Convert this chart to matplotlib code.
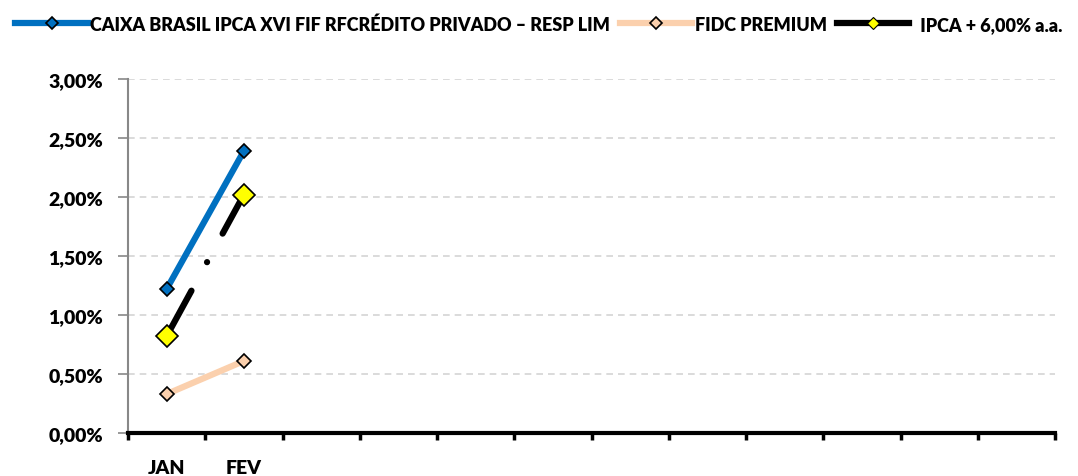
import matplotlib.pyplot as plt
from matplotlib.lines import Line2D
from matplotlib.ticker import FuncFormatter, MultipleLocator

# Dados do gráfico (rentabilidade mensal, %)
months = ["JAN", "FEV", "MAR", "ABR", "MAI", "JUN", "JUL", "AGO", "SET", "OUT", "NOV", "DEZ"]
month_labels = ["JAN", "FEV", "", "", "", "", "", "", "", "", "", ""]
caixa = [1.22, 2.39]
fidc = [0.33, 0.61]
ipca = [0.82, 2.02]

names = ["CAIXA BRASIL IPCA XVI FIF RFCRÉDITO PRIVADO – RESP LIM",
         "FIDC PREMIUM",
         "  IPCA + 6,00% a.a."]

plt.rcParams["font.family"] = ["Lato", "DejaVu Sans"]
plt.rcParams["font.weight"] = "heavy"

fig = plt.figure(figsize=(10.78, 4.77), dpi=100)
ax = fig.add_axes([128 / 1078, 43 / 477, (1055 - 128) / 1078, (434 - 80) / 477])

x = list(range(len(months)))
lw = 4.5

ax.plot(x[:len(caixa)], caixa, color="#0070c0", lw=lw, solid_capstyle="butt",
        marker="D", ms=7, mfc="#0070c0", mec="black", mew=1.2, zorder=4)
ax.plot(x[:len(fidc)], fidc, color="#fbd0ad", lw=lw, solid_capstyle="butt",
        marker="D", ms=7, mfc="#fbd0ad", mec="black", mew=1.2, zorder=3)
ax.plot(x[:len(ipca)], ipca, color="black", lw=lw, dash_capstyle="round",
        linestyle=(0, (8.3, 5.2, 0.01, 5.2)),
        marker="D", ms=11, mfc="#ffff00", mec="black", mew=1.2, zorder=5)

ax.set_xlim(-0.5, len(months) - 0.5)
ax.set_ylim(0, 3.0)

ax.yaxis.set_major_locator(MultipleLocator(0.5))
ax.yaxis.set_major_formatter(FuncFormatter(lambda v, p: f"{v:.2f}%".replace(".", ",")))
ax.grid(axis="y", color="#d4d4d4", linestyle=(0, (4, 3)), lw=1.2)
ax.set_axisbelow(True)

# marcas nos limites das categorias, rótulos no centro
ax.set_xticks([i - 0.5 for i in range(len(months) + 1)])
ax.set_xticklabels([])
ax.set_xticks(x, minor=True)
ax.set_xticklabels(month_labels, minor=True)
ax.tick_params(axis="x", which="major", direction="out", length=5, width=2.5, color="black")
ax.tick_params(axis="x", which="minor", length=0, pad=19, labelsize=14)
ax.tick_params(axis="y", direction="out", length=7, width=1.2, color="#888888",
               labelsize=14, pad=11)

for s in ["top", "right"]:
    ax.spines[s].set_visible(False)
ax.spines["left"].set_color("#888888")
ax.spines["left"].set_linewidth(1.5)
ax.spines["bottom"].set_color("black")
ax.spines["bottom"].set_linewidth(3)

handles = [
    Line2D([], [], color="#0070c0", lw=lw, marker="D", ms=6, mfc="#0070c0", mec="black", mew=1.2),
    Line2D([], [], color="#fbd0ad", lw=lw, marker="D", ms=6, mfc="#fbd0ad", mec="black", mew=1.2),
    Line2D([], [], color="black", lw=lw, marker="D", ms=6, mfc="#ffff00", mec="black", mew=0.8),
]
fig.legend(handles, names, loc="upper center", bbox_to_anchor=(0.5, 1.0), ncol=3,
           frameon=False, handlelength=4.0, handletextpad=0.15, columnspacing=0.55,
           prop={"weight": "heavy", "size": 13})

fig.savefig("out.png", dpi=100)
